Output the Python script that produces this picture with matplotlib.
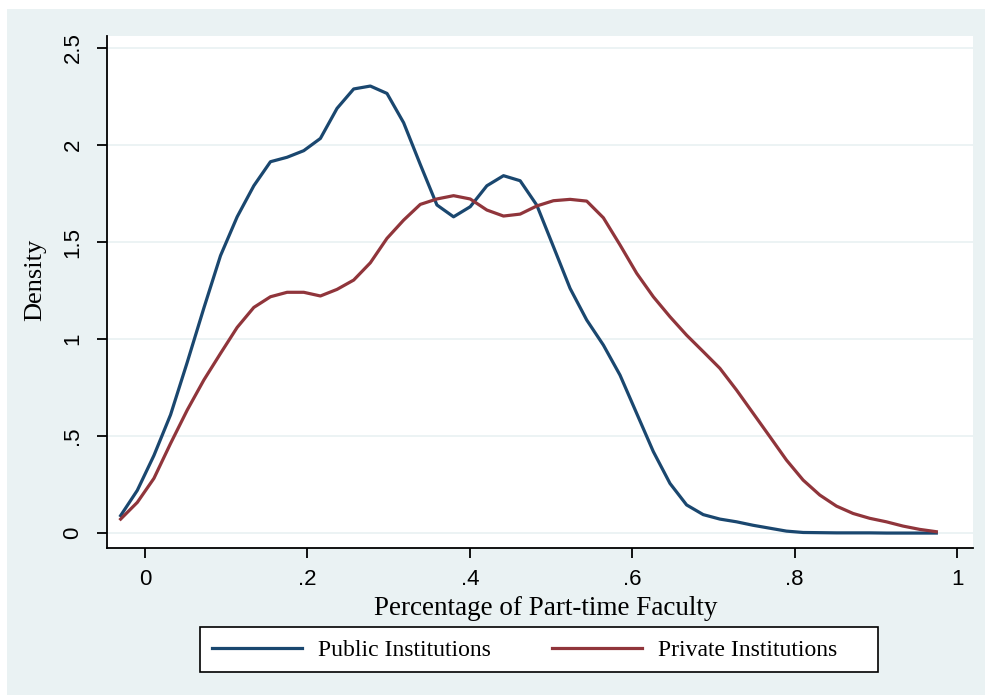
import matplotlib
matplotlib.use("Agg")
import matplotlib.pyplot as plt
from matplotlib.patches import Rectangle

# kernel density estimates (50 evaluation points)
x_grid = [-0.030, -0.0095, 0.011, 0.0315, 0.052, 0.0725, 0.093, 0.1135, 0.134, 0.1545,
          0.175, 0.1955, 0.216, 0.2365, 0.257, 0.2775, 0.298, 0.3185, 0.339, 0.3595,
          0.380, 0.4005, 0.421, 0.4415, 0.462, 0.4825, 0.503, 0.5235, 0.544, 0.5645,
          0.585, 0.6055, 0.626, 0.6465, 0.667, 0.6875, 0.708, 0.7285, 0.749, 0.7695,
          0.790, 0.8105, 0.831, 0.8515, 0.872, 0.8925, 0.913, 0.9335, 0.954, 0.9745]

public_density = [0.09, 0.22, 0.40, 0.61, 0.88, 1.16, 1.43, 1.63, 1.79, 1.914,
                  1.937, 1.971, 2.034, 2.189, 2.289, 2.304, 2.266, 2.115, 1.90, 1.691,
                  1.630, 1.682, 1.790, 1.842, 1.816, 1.69, 1.476, 1.261, 1.098, 0.969,
                  0.814, 0.617, 0.42, 0.256, 0.145, 0.095, 0.072, 0.058, 0.040, 0.025,
                  0.010, 0.003, 0.002, 0.001, 0.001, 0.001, 0.0, 0.0, 0.0, 0.0]

private_density = [0.072, 0.158, 0.282, 0.462, 0.634, 0.789, 0.926, 1.060, 1.163, 1.218,
                   1.241, 1.241, 1.222, 1.256, 1.304, 1.393, 1.519, 1.613, 1.694, 1.722,
                   1.739, 1.722, 1.665, 1.634, 1.644, 1.686, 1.713, 1.720, 1.711, 1.625,
                   1.485, 1.339, 1.218, 1.115, 1.02, 0.935, 0.849, 0.737, 0.617, 0.497,
                   0.376, 0.273, 0.196, 0.139, 0.101, 0.076, 0.058, 0.036, 0.019, 0.007]

x_ticks = [0, 0.2, 0.4, 0.6, 0.8, 1]
x_labels = ["0", ".2", ".4", ".6", ".8", "1"]
y_ticks = [0, 0.5, 1, 1.5, 2, 2.5]
y_labels = ["0", ".5", "1", "1.5", "2", "2.5"]

bg = "#EAF2F3"
navy = "#1A476F"
maroon = "#90353B"
sans = "Liberation Sans"
serif = "Liberation Serif"

W, H = 985, 695

fig = plt.figure(figsize=(9.85, 6.95), dpi=100, facecolor="white")
# stata-style graph region (light bluish gray), white strip at top/left
fig.patches.append(Rectangle((7 / W, 0), 1 - 7 / W, 1 - 9 / H,
                             transform=fig.transFigure, facecolor=bg,
                             edgecolor="none", zorder=-10))

ax = fig.add_axes([107 / W, 1 - 548 / H, (973 - 107) / W, (548 - 36) / H])
ax.set_facecolor("white")

ax.plot(x_grid, public_density, color=navy, lw=2.3, label="Public Institutions")
ax.plot(x_grid, private_density, color=maroon, lw=2.3, label="Private Institutions")

ax.set_xlim(-0.0468, 1.0197)
ax.set_ylim(-0.077, 2.562)

for s in ["top", "right"]:
    ax.spines[s].set_visible(False)
for s in ["left", "bottom"]:
    ax.spines[s].set_linewidth(1.3)

ax.set_yticks(y_ticks)
ax.set_yticklabels(y_labels, rotation=90, va="center", family=sans, fontsize=16)
ax.set_xticks(x_ticks)
ax.set_xticklabels(x_labels, family=sans, fontsize=16)
ax.tick_params(axis="both", direction="out", length=7, width=1.3)
ax.tick_params(axis="y", pad=10)
ax.tick_params(axis="x", pad=8)

ax.grid(axis="y", color=bg, lw=1.3)
ax.set_axisbelow(True)

ax.set_ylabel("Density", family=serif, fontsize=19)
ax.yaxis.set_label_coords(-0.0705, 0.523)
ax.set_xlabel("Percentage of Part-time Faculty", family=serif, fontsize=19.5)
ax.xaxis.set_label_coords(0.507, -0.093)

# legend box drawn separately so its padding matches the stata layout
fig.patches.append(Rectangle((200 / W, 1 - 672 / H), 678 / W, 45 / H,
                             transform=fig.transFigure, facecolor="white",
                             edgecolor="black", lw=1.2, zorder=5))
leg = fig.legend(loc="center left", bbox_to_anchor=(205 / W, 1 - 650 / H), ncol=2,
                 frameon=False, prop={"family": serif, "size": 17}, handlelength=3.8,
                 handletextpad=0.68, columnspacing=2.6, borderpad=0.3,
                 borderaxespad=0)
leg.set_zorder(6)

fig.savefig("out.png", dpi=100, facecolor="white")
